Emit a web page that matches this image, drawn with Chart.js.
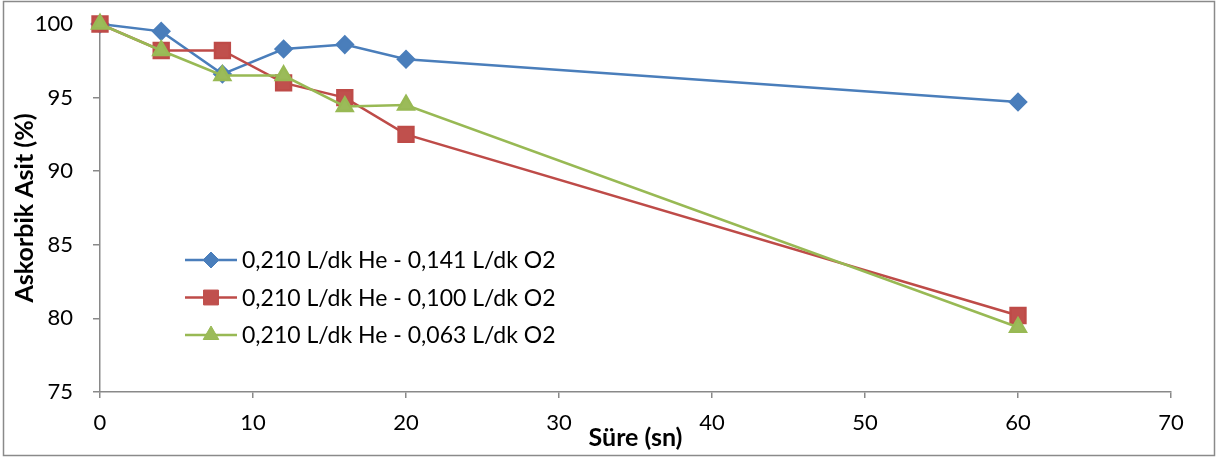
<!DOCTYPE html>
<html>
<head>
<meta charset="utf-8">
<script src="https://cdn.jsdelivr.net/npm/chart.js@4.4.1/dist/chart.umd.min.js"></script>
<style>
  html, body { margin: 0; padding: 0; background: #fff; }
  #wrap { width: 1225px; height: 461px; }
</style>
</head>
<body>
<div id="wrap"><canvas id="lineChart" width="1225" height="461"></canvas></div>
<script>
// sampling times (sn) and ascorbic acid remaining (%)
var times = [0, 4, 8, 12, 16, 20, 60];
var seriesNames = [
    '0,210 L/dk He - 0,141 L/dk O2',
    '0,210 L/dk He - 0,100 L/dk O2',
    '0,210 L/dk He - 0,063 L/dk O2'
];
var o2_141 = [100, 99.5, 96.6, 98.3, 98.6, 97.6, 94.7];
var o2_100 = [100, 98.2, 98.2, 96.0, 95.0, 92.5, 80.2];
var o2_063 = [100, 98.2, 96.5, 96.5, 94.4, 94.5, 79.4];
var xTicks = [0, 10, 20, 30, 40, 50, 60, 70];
var yTicks = [75, 80, 85, 90, 95, 100];

var FONT = 'Lato, "Open Sans", sans-serif';

function toPoints(values) {
    return times.map(function (t, i) { return { x: t, y: values[i] }; });
}

// gray frame around the whole chart
var framePlugin = {
    id: 'frame',
    beforeDraw: function (chart) {
        var ctx = chart.ctx;
        ctx.save();
        ctx.fillStyle = '#fff';
        ctx.fillRect(0, 0, chart.width, chart.height);
        ctx.strokeStyle = '#8a8a8a';
        ctx.lineWidth = 1.5;
        ctx.strokeRect(3.5, 1.5, 1211, 454);
        ctx.restore();
    }
};

// legend drawn inside the plot area
var innerLegend = {
    id: 'innerLegend',
    afterDraw: function (chart) {
        var ctx = chart.ctx;
        var area = chart.chartArea;
        var x0 = area.left + 85;
        var y0 = 260;
        ctx.save();
        chart.data.datasets.forEach(function (ds, i) {
            var y = y0 + i * 37.5;
            ctx.strokeStyle = ds.borderColor;
            ctx.lineWidth = ds.borderWidth;
            ctx.beginPath();
            ctx.moveTo(x0, y);
            ctx.lineTo(x0 + 52, y);
            ctx.stroke();
            ctx.fillStyle = ds.pointBackgroundColor;
            ctx.strokeStyle = ds.borderColor;
            ctx.lineWidth = 1;
            Chart.helpers.drawPoint(ctx, {
                pointStyle: ds.pointStyle,
                radius: ds.pointRadius,
                borderWidth: 1,
                rotation: 0
            }, x0 + 26, y);
            ctx.fillStyle = '#000';
            ctx.font = '23px ' + FONT;
            ctx.textAlign = 'left';
            ctx.textBaseline = 'middle';
            ctx.fillText(seriesNames[i], x0 + 57, y + 1);
        });
        ctx.restore();
    }
};

var ctxLineChart = document.getElementById('lineChart').getContext('2d');
var lineChart = new Chart(ctxLineChart, {
    type: 'line',
    data: {
        datasets: [{
            label: seriesNames[0],
            data: toPoints(o2_141),
            borderColor: '#4a7ebb',
            backgroundColor: '#4a7ebb',
            pointBackgroundColor: '#4a7ebb',
            pointStyle: 'rectRot',
            pointRadius: 8,
            borderWidth: 2.5,
            order: 2
        }, {
            label: seriesNames[1],
            data: toPoints(o2_100),
            borderColor: '#be4b48',
            backgroundColor: '#c0504d',
            pointBackgroundColor: '#c0504d',
            pointStyle: 'rect',
            pointRadius: 10.5,
            borderWidth: 2.5,
            order: 1
        }, {
            label: seriesNames[2],
            data: toPoints(o2_063),
            borderColor: '#98b954',
            backgroundColor: '#9bbb59',
            pointBackgroundColor: '#9bbb59',
            pointStyle: 'triangle',
            pointRadius: 9,
            borderWidth: 2.5,
            order: 0
        }]
    },
    options: {
        responsive: false,
        animation: false,
        clip: false,
        layout: { padding: { left: 0, top: 24, right: 54, bottom: 0 } },
        elements: {
            line: { tension: 0, fill: false },
            point: { borderWidth: 1, hoverRadius: 8 }
        },
        plugins: {
            legend: { display: false },
            tooltip: { enabled: false }
        },
        scales: {
            x: {
                type: 'linear',
                min: 0,
                max: 70,
                afterFit: function (scale) {
                    scale.height = 69;
                    scale.paddingLeft = 0;
                    scale.paddingRight = 0;
                },
                afterBuildTicks: function (scale) {
                    scale.ticks = xTicks.map(function (v) { return { value: v }; });
                },
                grid: { drawOnChartArea: false, tickLength: 6, color: '#898989', lineWidth: 1.5 },
                border: { color: '#898989', width: 1.5 },
                ticks: { color: '#000', padding: 12, maxRotation: 0, font: { family: FONT, size: 22 } },
                title: {
                    display: true,
                    text: 'Süre (sn)',
                    color: '#000',
                    padding: { top: 0, bottom: 8 },
                    font: { family: FONT, size: 25, weight: 'bold' }
                }
            },
            y: {
                min: 75,
                max: 100,
                afterFit: function (scale) {
                    scale.width = 100;
                    scale.paddingTop = 0;
                    scale.paddingBottom = 0;
                },
                afterBuildTicks: function (scale) {
                    scale.ticks = yTicks.map(function (v) { return { value: v }; });
                },
                grid: { drawOnChartArea: false, tickLength: 7, color: '#898989', lineWidth: 1.5 },
                border: { color: '#898989', width: 1.5 },
                ticks: { color: '#000', padding: 20, font: { family: FONT, size: 22 } },
                title: {
                    display: true,
                    text: 'Askorbik Asit (%)',
                    color: '#000',
                    padding: { top: 10, bottom: 0 },
                    font: { family: FONT, size: 25, weight: 'bold' }
                }
            }
        }
    },
    plugins: [framePlugin, innerLegend]
});
</script>
</body>
</html>
